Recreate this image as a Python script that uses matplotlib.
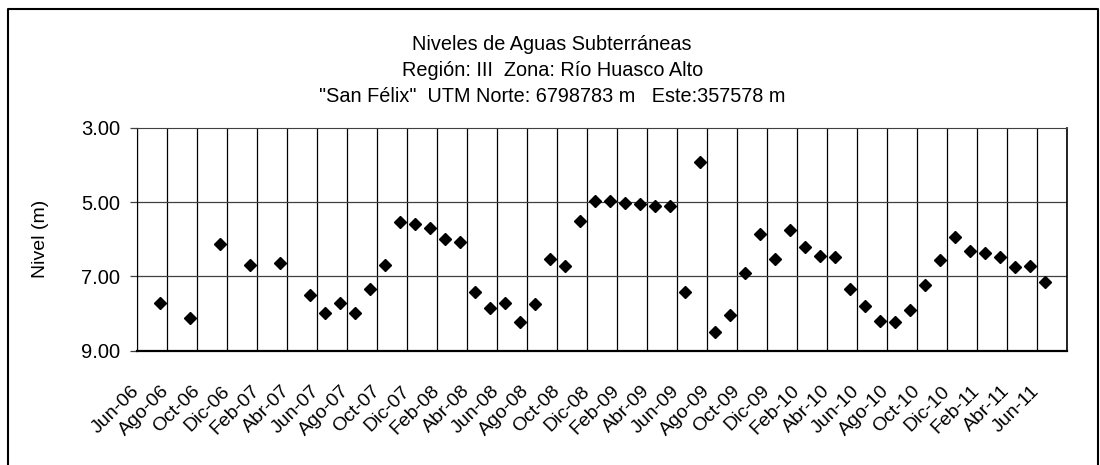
import matplotlib
matplotlib.use("Agg")
import matplotlib.pyplot as plt
import matplotlib.transforms as mtransforms
from matplotlib.lines import Line2D
import numpy as np

plt.rcParams['font.family'] = ['Liberation Sans', 'DejaVu Sans']

# Monthly readings (year-month) and water level depth in metres
dates = ['2006-07', '2006-09', '2006-11', '2007-01', '2007-03', '2007-05',
         '2007-06', '2007-07', '2007-08', '2007-09', '2007-10', '2007-11',
         '2007-12', '2008-01', '2008-02', '2008-03', '2008-04', '2008-05',
         '2008-06', '2008-07', '2008-08', '2008-09', '2008-10', '2008-11',
         '2008-12', '2009-01', '2009-02', '2009-03', '2009-04', '2009-05',
         '2009-06', '2009-07', '2009-08', '2009-09', '2009-10', '2009-11',
         '2009-12', '2010-01', '2010-02', '2010-03', '2010-04', '2010-05',
         '2010-06', '2010-07', '2010-08', '2010-09', '2010-10', '2010-11',
         '2010-12', '2011-01', '2011-02', '2011-03', '2011-04', '2011-05',
         '2011-06']
levels = [7.73, 8.13, 6.12, 6.70, 6.65, 7.51,
          8.00, 7.73, 8.00, 7.35, 6.70, 5.54,
          5.60, 5.69, 5.99, 6.08, 7.43, 7.86,
          7.73, 8.22, 7.75, 6.53, 6.72, 5.52,
          4.98, 4.98, 5.01, 5.04, 5.11, 5.10,
          7.42, 3.93, 8.50, 8.05, 6.90, 5.87,
          6.54, 5.75, 6.20, 6.45, 6.47, 7.34,
          7.81, 8.20, 8.22, 7.92, 7.23, 6.57,
          5.94, 6.32, 6.38, 6.47, 6.74, 6.71,
          7.15]

month_names = ['Ene', 'Feb', 'Mar', 'Abr', 'May', 'Jun',
               'Jul', 'Ago', 'Sep', 'Oct', 'Nov', 'Dic']
start_year, start_month = 2006, 6


def month_index(s):
    y, m = map(int, s.split('-'))
    return (y - start_year) * 12 + (m - start_month)


x = np.array([month_index(d) for d in dates]) + 0.5

# tick every two months, Jun-06 .. Jun-11
tick_pos = np.arange(0, 61, 2)
tick_labels = []
for k in tick_pos:
    m = (start_month - 1 + k) % 12
    y = start_year + (start_month - 1 + k) // 12
    tick_labels.append(f'{month_names[m]}-{y % 100:02d}')

fig = plt.figure(figsize=(11, 4.65), dpi=100)
ax = fig.add_axes([137 / 1100, 1 - 350.5 / 465, 930 / 1100, 222.5 / 465])

# vertical grid at every label
for k in range(0, 63, 2):
    ax.axvline(k, color='black', linewidth=0.9, zorder=1)
for v in [5, 7]:
    ax.axhline(v, color='#404040', linewidth=0.9, zorder=1)

ax.plot(x, levels, linestyle='none', marker='D', markersize=6,
        color='black', zorder=3)

ax.set_xlim(0, 62)
ax.set_ylim(9, 3)
ax.set_yticks([3, 5, 7, 9])
ax.set_yticklabels([f'{v:.2f}' for v in [3, 5, 7, 9]], fontsize=14.5)
ax.set_xticks(tick_pos)
ax.set_xticklabels(tick_labels, rotation=45, ha='right',
                   rotation_mode='anchor', fontsize=14)
ax.tick_params(axis='x', length=0, pad=23)
ax.tick_params(axis='y', length=5, width=0.9, color='#404040', pad=7)

shift = mtransforms.ScaledTranslation(-0.06, 0, fig.dpi_scale_trans)
for lbl in ax.get_xticklabels():
    lbl.set_transform(lbl.get_transform() + shift)

ax.spines['top'].set_color('#404040')
ax.spines['left'].set_color('black')
ax.spines['bottom'].set_linewidth(1.6)
ax.spines['right'].set_linewidth(1.2)

ax.set_ylabel('Nivel (m)', fontsize=14, labelpad=23)

title_lines = ['Niveles de Aguas Subterráneas',
               'Región: III  Zona: Río Huasco Alto',
               '"San Félix"  UTM Norte: 6798783 m   Este:357578 m']
for i, line in enumerate(title_lines):
    fig.text(0.502, 1 - (45 + 26 * i) / 465, line, ha='center', va='center',
             fontsize=14.3)

# frame around the chart
fig.add_artist(Line2D([7.5 / 1100, 7.5 / 1100, 1097.5 / 1100, 1097.5 / 1100],
                      [-0.05, 1 - 9.5 / 465, 1 - 9.5 / 465, -0.05],
                      color='black', linewidth=1.5))

fig.savefig('out.png', dpi=100)
